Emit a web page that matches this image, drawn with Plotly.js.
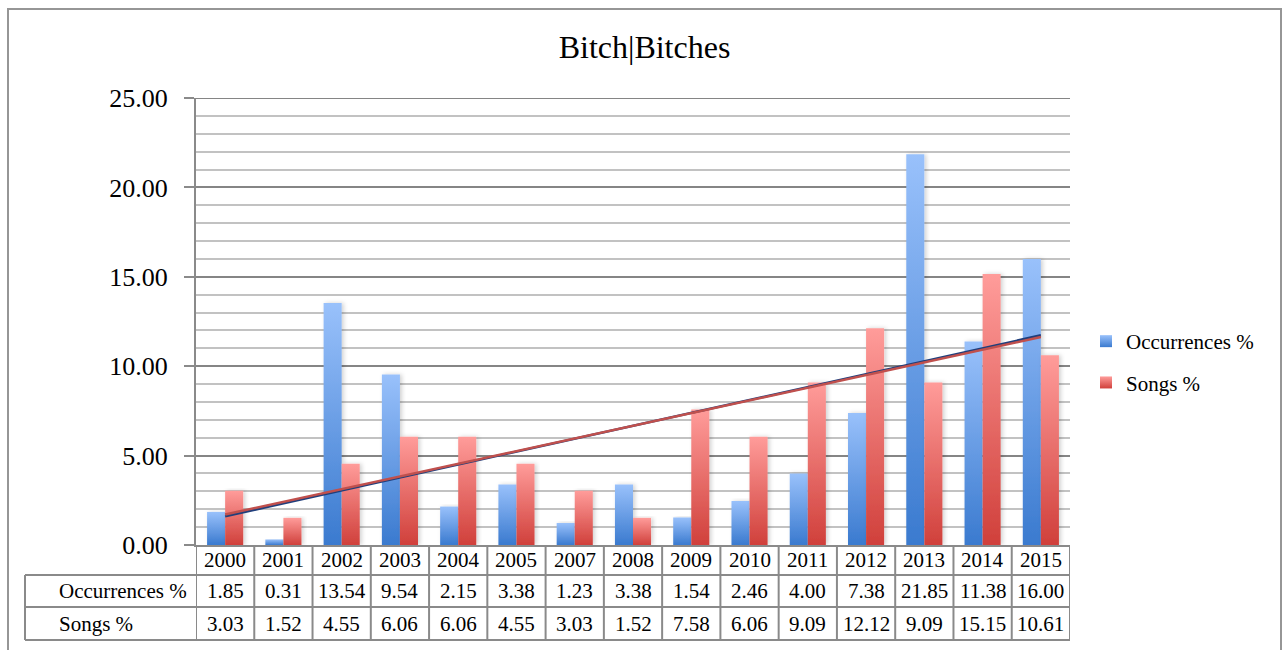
<!DOCTYPE html>
<html>
<head>
<meta charset="utf-8">
<script src="https://cdn.plot.ly/plotly-3.0.1.min.js"></script>
<style>
  html, body { margin: 0; padding: 0; background: #ffffff; }
  #chart { width: 1285px; height: 650px; }
</style>
</head>
<body>
<div id="chart"></div>
<script>
// ---- data ----
const years = ['2000','2001','2002','2003','2004','2005','2007','2008','2009','2010','2011','2012','2013','2014','2015'];
const occurrences = [1.85, 0.31, 13.54, 9.54, 2.15, 3.38, 1.23, 3.38, 1.54, 2.46, 4.00, 7.38, 21.85, 11.38, 16.00];
const songs = [3.03, 1.52, 4.55, 6.06, 6.06, 4.55, 3.03, 1.52, 7.58, 6.06, 9.09, 12.12, 9.09, 15.15, 10.61];
const seriesNames = ['Occurrences %', 'Songs %'];
const chartTitle = 'Bitch|Bitches';

// ---- linear trend (least squares over category index) ----
function trend(vals) {
  const n = vals.length;
  const xs = vals.map((_, i) => i + 1);
  const mx = xs.reduce((a, b) => a + b, 0) / n;
  const my = vals.reduce((a, b) => a + b, 0) / n;
  let sxy = 0, sxx = 0;
  for (let i = 0; i < n; i++) { sxy += (xs[i] - mx) * (vals[i] - my); sxx += (xs[i] - mx) ** 2; }
  const b = sxy / sxx, a = my - b * mx;
  return xs.map(x => a + b * x);
}

// ---- geometry helpers (plot area: x 196..1070, y 98..545) ----
const L = 196, R = 1070, T = 98, B = 545;
const px = x => (x - L) / (R - L);
const py = y => (B - y) / (B - T);

const FONT = '"Liberation Serif", "Times New Roman", serif';
const lineCol = '#8a8a8a';

const traces = [
  { type: 'bar', x: years, y: occurrences, name: seriesNames[0], legendgroup: 'a',
    marker: { color: '#6fa0e6', line: { width: 0 } }, hoverinfo: 'skip' },
  { type: 'bar', x: years, y: songs, name: seriesNames[1], legendgroup: 'b',
    marker: { color: '#e86d69', line: { width: 0 } }, hoverinfo: 'skip' },
  { type: 'scatter', mode: 'lines', x: years, y: trend(occurrences), showlegend: false,
    line: { color: '#1f3f7c', width: 2.5 }, hoverinfo: 'skip' },
  { type: 'scatter', mode: 'lines', x: years, y: trend(songs), showlegend: false,
    line: { color: '#c0504d', width: 2.5 }, hoverinfo: 'skip' }
];

// ---- data table shapes & annotations ----
const shapes = [];
const annotations = [];
// top major gridline at 25
shapes.push({ type: 'line', xref: 'paper', yref: 'y', x0: 0, x1: 1, y0: 25, y1: 25,
  line: { color: '#858585', width: 2 } });
const rowY = [575, 607, 640];
rowY.forEach(y => shapes.push({ type: 'line', xref: 'paper', yref: 'paper',
  x0: px(25), x1: px(R), y0: py(y), y1: py(y), line: { color: lineCol, width: 2 } }));
for (let i = 0; i <= years.length; i++) {
  shapes.push({ type: 'line', xref: 'x', yref: 'paper', x0: i - 0.5, x1: i - 0.5,
    y0: py(B), y1: py(640), line: { color: lineCol, width: 2 } });
}
shapes.push({ type: 'line', xref: 'paper', yref: 'paper', x0: px(25), x1: px(25),
  y0: py(575), y1: py(640), line: { color: lineCol, width: 2 } });
// outer chart border
shapes.push({ type: 'rect', xref: 'paper', yref: 'paper', x0: px(8), x1: px(1281),
  y0: py(9), y1: py(700), line: { color: '#969696', width: 2 }, fillcolor: 'rgba(0,0,0,0)' });

const tFont = { family: FONT, size: 21, color: '#000' };
years.forEach((yr, i) => {
  // category index i on the x axis
  annotations.push({ x: i, xref: 'x', y: py(560), yref: 'paper', text: yr, showarrow: false, font: tFont, yanchor: 'middle' });
  annotations.push({ x: i, xref: 'x', y: py(591), yref: 'paper', text: occurrences[i].toFixed(2), showarrow: false, font: tFont, yanchor: 'middle' });
  annotations.push({ x: i, xref: 'x', y: py(623.5), yref: 'paper', text: songs[i].toFixed(2), showarrow: false, font: tFont, yanchor: 'middle' });
});
annotations.push({ x: px(57), xref: 'paper', xanchor: 'left', y: py(591), yref: 'paper', text: seriesNames[0], showarrow: false, font: tFont, yanchor: 'middle' });
annotations.push({ x: px(57), xref: 'paper', xanchor: 'left', y: py(623.5), yref: 'paper', text: seriesNames[1], showarrow: false, font: tFont, yanchor: 'middle' });

const layout = {
  width: 1285, height: 650,
  margin: { l: L, r: 1285 - R, t: T, b: 650 - B, pad: 0 },
  paper_bgcolor: '#ffffff', plot_bgcolor: '#ffffff',
  font: { family: FONT, color: '#000' },
  title: { text: chartTitle, font: { family: FONT, size: 32, color: '#000' },
    x: 644.5 / 1285, xref: 'container', xanchor: 'center', y: 1 - 47 / 650, yanchor: 'middle' },
  barmode: 'group', bargap: 0.38, bargroupgap: 0,
  showlegend: true,
  legend: { x: px(1086), xanchor: 'left', y: py(362), yanchor: 'middle',
    font: { family: FONT, size: 21, color: '#000' }, tracegroupgap: 11,
    itemwidth: 30, bgcolor: 'rgba(0,0,0,0)' },
  xaxis: { type: 'category', range: [-0.5, years.length - 0.5], showticklabels: false,
    ticks: '', showgrid: false, zeroline: false, showline: true, linecolor: lineCol, linewidth: 2, fixedrange: true },
  yaxis: { range: [0, 25], dtick: 5, tick0: 0, tickformat: '.2f',
    tickfont: { family: FONT, size: 26, color: '#000' },
    ticks: 'outside', ticklen: 10, tickwidth: 2, tickcolor: lineCol, ticklabelstandoff: 11,
    showline: true, linecolor: lineCol, linewidth: 2,
    showgrid: true, gridcolor: '#858585', gridwidth: 2, zeroline: false,
    minor: { dtick: 1, tick0: 0, showgrid: true, gridcolor: '#c2c2c2', gridwidth: 2, ticks: '' },
    fixedrange: true },
  shapes: shapes,
  annotations: annotations
};

Plotly.newPlot('chart', traces, layout, { displayModeBar: false, staticPlot: true }).then(gd => {
  const NS = 'http://www.w3.org/2000/svg';
  const svg = gd.querySelector('svg.main-svg');
  let defs = svg.querySelector('defs');
  if (!defs) { defs = document.createElementNS(NS, 'defs'); svg.insertBefore(defs, svg.firstChild); }
  function grad(id, top, bottom) {
    const g = document.createElementNS(NS, 'linearGradient');
    g.setAttribute('id', id); g.setAttribute('x1', '0'); g.setAttribute('y1', '0');
    g.setAttribute('x2', '0'); g.setAttribute('y2', '1');
    [[0, top], [1, bottom]].forEach(([o, c]) => {
      const s = document.createElementNS(NS, 'stop');
      s.setAttribute('offset', o); s.setAttribute('stop-color', c); g.appendChild(s);
    });
    defs.appendChild(g);
  }
  grad('gBlue', '#99c1fb', '#3a7acf');
  grad('gRed', '#ff9c9a', '#d0403b');
  const f = document.createElementNS(NS, 'filter');
  f.setAttribute('id', 'barShadow'); f.setAttribute('x', '-30%'); f.setAttribute('y', '-5%');
  f.setAttribute('width', '160%'); f.setAttribute('height', '110%');
  const ds = document.createElementNS(NS, 'feDropShadow');
  ds.setAttribute('dx', '2'); ds.setAttribute('dy', '0'); ds.setAttribute('stdDeviation', '2');
  ds.setAttribute('flood-color', '#000'); ds.setAttribute('flood-opacity', '0.18');
  f.appendChild(ds); defs.appendChild(f);
  const fills = ['url(#gBlue)', 'url(#gRed)'];
  gd.querySelectorAll('.barlayer .trace').forEach((t, i) => {
    t.querySelectorAll('path').forEach(p => { p.style.fill = fills[i]; p.setAttribute('filter', 'url(#barShadow)'); });
  });
  gd.querySelectorAll('.legend .traces').forEach((t, i) => {
    t.querySelectorAll('.legendpoints path').forEach(p => { p.style.fill = fills[i]; });
  });
});
</script>
</body>
</html>
